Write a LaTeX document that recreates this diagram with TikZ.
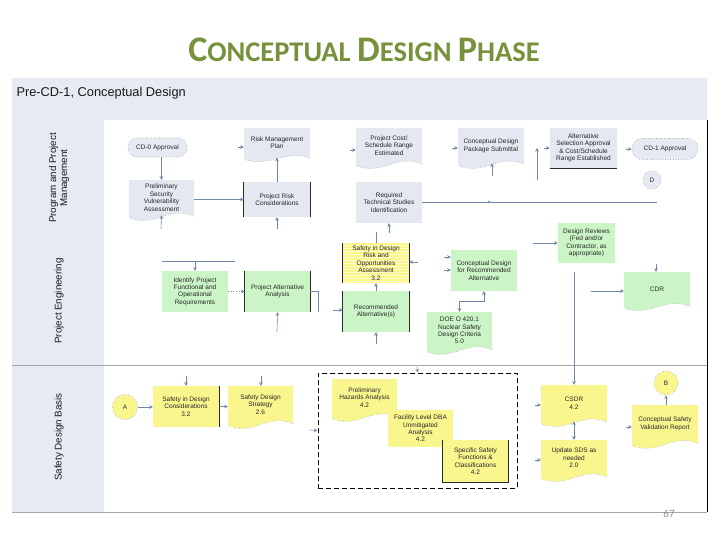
\documentclass[tikz,border=0pt]{standalone}
\usepackage{fontspec}
\setmainfont{Liberation Sans}
\newfontfamily\titlefont{Carlito}
\usetikzlibrary{arrows.meta,patterns,calc}
\definecolor{lanebg}{HTML}{E6EBF3}
\definecolor{boxgray}{HTML}{E3E8F1}
\definecolor{boxgreen}{HTML}{CBF5C6}
\definecolor{boxyellow}{HTML}{FAF68E}
\definecolor{conncol}{HTML}{7088A8}
\definecolor{titlegreen}{HTML}{76923C}
\definecolor{edgedark}{HTML}{2A2A2A}
\definecolor{pagegray}{HTML}{8C8C8C}
\tikzset{
  conn/.style={draw=conncol, line width=0.6pt, -{Stealth[length=3.6pt,width=3.6pt]}},
  dconn/.style={draw=conncol, line width=0.6pt, {Stealth[length=3.6pt,width=3.6pt]}-{Stealth[length=3.6pt,width=3.6pt]}},
  plainline/.style={draw=conncol, line width=0.6pt},
  boxtext/.style={font=\fontsize{6.5}{7.4}\selectfont, text=black!85, align=center, inner sep=0pt},
  darkedge/.style={draw=edgedark, line width=0.8pt},
  dotedge/.style={draw=gray!75, dotted, line width=0.6pt},
  terminal/.style={boxtext, fill=lanebg, draw=gray!80, dotted, line width=0.6pt, rounded corners=9pt},
  connector/.style={boxtext, circle, draw=gray!80, dotted, line width=0.6pt},
  lanelabel/.style={rotate=90, align=center, font=\fontsize{9.8}{11}\selectfont, text=black!90},
}
\newcommand\rectnode[7]{%
  \pgfmathsetmacro\cx{(#2+#4)/2}\pgfmathsetmacro\cy{(#3+#5)/2}%
  \pgfmathsetmacro\ww{#4-#2}\pgfmathsetmacro\hh{#5-#3}%
  \node[boxtext, fill=#6, minimum width=\ww pt, minimum height=\hh pt] (#1) at (\cx,\cy) {#7};}
\newcommand\docnode[7]{%
  \pgfmathsetmacro\ww{#4-#2}\pgfmathsetmacro\hh{#5-#3}%
  \pgfmathsetmacro\cx{(#2+#4)/2}%
  \pgfmathsetmacro\yl{#5-0.10*\hh}\pgfmathsetmacro\yr{#5-0.14*\hh}%
  \pgfmathsetmacro\cax{#2+0.40*\ww}\pgfmathsetmacro\cay{#5+0.14*\hh}%
  \pgfmathsetmacro\cbx{#2+0.62*\ww}\pgfmathsetmacro\cby{#5-0.40*\hh}%
  \fill[#6] (#2,#3) -- (#4,#3) -- (#4,\yr) .. controls (\cbx,\cby) and (\cax,\cay) .. (#2,\yl) -- cycle;
  \draw[dotedge] (#4,\yr) .. controls (\cbx,\cby) and (\cax,\cay) .. (#2,\yl);
  \pgfmathsetmacro\th{0.84*\hh}\pgfmathsetmacro\cy{#3+0.42*\hh}%
  \node[boxtext, minimum width=\ww pt, minimum height=\th pt] (#1) at (\cx,\cy) {#7};}
\begin{document}
\begin{tikzpicture}[x=1pt,y=-1pt]
\useasboundingbox (0,0) rectangle (720,540);
\fill[white] (0,0) rectangle (720,540);
% title
\node[font=\titlefont\bfseries, text=titlegreen, anchor=base] (title) at (364,62)
  {\fontsize{36}{36}\selectfont C\fontsize{28.5}{28.5}\selectfont ONCEPTUAL \fontsize{36}{36}\selectfont D\fontsize{28.5}{28.5}\selectfont ESIGN \fontsize{36}{36}\selectfont P\fontsize{28.5}{28.5}\selectfont HASE};
% pool and lanes
\fill[lanebg] (12,78) rectangle (707,120);
\fill[lanebg] (12,120) rectangle (104,512);
\draw[gray!70, line width=0.8pt] (12,365) -- (707,365);
\draw[gray!70, line width=0.8pt] (12,512) -- (707,512);
\draw[black, line width=1pt] (707,120) -- (707,512);
\node[anchor=west, font=\fontsize{12.8}{12.8}\selectfont, text=black!90] (hdr) at (13,93) {Pre-CD-1, Conceptual Design};
\node[lanelabel] (lane1) at (59,178) {Program and Project\\Management};
\node[lanelabel] (lane2) at (59,301) {Project Engineering};
\node[lanelabel] (lane3) at (59,437) {Safety Design Basis};

% ---- lane 1
\node[terminal, minimum width=59pt, minimum height=19pt] (cd0) at (157.5,147.5) {CD-0 Approval};
\docnode{psva}{129}{180}{194}{222}{boxgray}{Preliminary\\Security\\Vulnerability\\Assessment}
\docnode{rmp}{244}{128}{310}{163}{boxgray}{Risk Management\\Plan}
\rectnode{prc}{244}{182}{310}{217}{boxgray}{Project Risk\\Considerations}
\draw[darkedge] (prc.north west) -- (prc.south west) (prc.north east) -- (prc.south east);
\docnode{pcs}{356}{128}{422}{170}{boxgray}{Project Cost/\\Schedule Range\\Estimated}
\rectnode{rts}{356}{182}{422}{223}{boxgray}{Required\\Technical Studies\\Identification}
\docnode{cdp}{458}{128}{524}{170}{boxgray}{Conceptual Design\\Package Submittal}
\rectnode{asa}{550}{128}{617}{168}{boxgray}{Alternative\\Selection Approval\\\& Cost/Schedule\\Range Established}
\draw[darkedge] (asa.south west) -- (asa.south east);
\node[terminal, minimum width=66pt, minimum height=21pt, rounded corners=10pt] (cd1) at (665,149) {CD-1 Approval};
\node[connector, fill=lanebg, minimum size=18pt] (D) at (652,180) {D};

% ---- lane 2
\rectnode{ipf}{162}{271}{228}{312}{boxgreen}{Identify Project\\Functional and\\Operational\\Requirements}
\rectnode{paa}{245}{271}{310}{312}{boxgreen}{Project Alternative\\Analysis}
\draw[darkedge] (paa.north west) -- (paa.south west) (paa.north east) -- (paa.south east);
\fill[boxyellow] (343,243) rectangle (409,283);
\path[pattern=horizontal lines, pattern color=white!55!boxyellow] (343,243) rectangle (409,283);
\rectnode{sdr}{343}{243}{409}{283}{none}{Safety in Design\\Risk and\\Opportunities\\Assessment\\3.2}
\draw[darkedge] (sdr.north west) -- (sdr.south west) (sdr.north east) -- (sdr.south east);
\rectnode{ra}{343}{291}{409}{332}{boxgreen}{Recommended\\Alternative(s)}
\draw[darkedge] (ra.north west) -- (ra.south west) (ra.north east) -- (ra.south east);
\rectnode{cdra}{451}{250}{517}{291}{boxgreen}{Conceptual Design\\for Recommended\\Alternative}
\docnode{doe}{427}{312}{492}{356}{boxgreen}{DOE O 420.1\\Nuclear Safety\\Design Criteria\\5.0}
\rectnode{dr}{558}{223}{615}{263}{boxgreen}{Design Reviews\\(Fed and/or\\Contractor, as\\appropriate)}
\docnode{cdr}{624}{272}{690}{312}{boxgreen}{CDR}

% ---- lane 3
\node[connector, fill=boxyellow, minimum size=25pt] (A) at (125,407) {A};
\rectnode{sdc}{153}{386}{219}{427}{boxyellow}{Safety in Design\\Considerations\\3.2}
\draw[darkedge] (sdc.north east) -- (sdc.south east);
\docnode{sds}{228}{386}{293}{430}{boxyellow}{Safety Design\\Strategy\\2.6}
\node[draw=black, dashed, dash pattern=on 5pt off 3pt, line width=1pt, minimum width=199pt, minimum height=115pt, inner sep=0pt] (grp) at (417.5,430.5) {};
\docnode{pha}{332}{379}{397}{423}{boxyellow}{Preliminary\\Hazards Analysis\\4.2}
\rectnode{fdba}{388}{410}{453}{447}{boxyellow}{Facility Level DBA\\Unmitigated\\Analysis\\4.2}
\rectnode{ssf}{443}{440}{508}{482}{boxyellow}{Specific Safety\\Functions \&\\Classifications\\4.2}
\draw[darkedge] (ssf.north west) -- (ssf.south west) -- (ssf.south east) -- (ssf.north east);
\docnode{csdr}{541}{385}{607}{428}{boxyellow}{CSDR\\4.2}
\docnode{usds}{541}{440}{607}{483}{boxyellow}{Update SDS as\\needed\\2.0}
\node[connector, fill=boxyellow, minimum size=24pt] (B) at (666,383) {B};
\docnode{csvr}{632}{405}{698}{450}{boxyellow}{Conceptual Safety\\Validation Report}

% ---- connectors lane 1
\draw[conn] (cd0.south -| psva.north) -- (psva.north);
\draw[conn] (psva.east |- prc.west) -- (prc.west);
\draw[conn] (prc.north) -- (rmp.south);
\coordinate (s1) at (161,229);
\draw[conn] (s1) -- (psva.south);
\coordinate (s2) at (277,229);
\draw[conn] (s2) -- (prc.south);
\coordinate (s3) at (389,233);
\draw[conn] (s3) -- (rts.south);
\coordinate (s4) at (238,147);
\draw[conn] (s4) -- (rmp.west |- s4);
\coordinate (s5) at (350,150);
\draw[conn] (s5) -- (pcs.west |- s5);
\coordinate (s6) at (452,148);
\draw[conn] (s6) -- (cdp.west |- s6);
\coordinate (s7) at (544,148);
\draw[conn] (s7) -- (asa.west |- s7);
\coordinate (s8) at (626,149);
\draw[conn] (s8) -- (cd1.west);
\coordinate (s9) at (492,176);
\draw[conn] (s9) -- (cdp.south -| s9);
\coordinate (v1) at (537,180);
\coordinate (v2) at (537,148);
\draw[conn] (v1) -- (v2);
\coordinate (h1) at (657,202);
\draw[plainline] (rts.east |- h1) -- (h1);
\fill[conncol] (489,202) circle (1.3pt);

% ---- connectors lane 2
\coordinate (t1) at (162,261);
\coordinate (t2) at (235,261);
\draw[plainline] (t1) -- (t2);
\draw[conn] (ipf.north |- t1) -- (ipf.north);
\draw[conn, dotted] (ipf.east) -- (paa.west);
\coordinate (t3) at (318,312);
\draw[plainline] (paa.east) -| (t3);
\coordinate (t4) at (277,332);
\draw[conn] (t4) -- (paa.south);
\draw[conn] (ra.north) -- (sdr.south);
\coordinate (t5) at (376,232);
\draw[plainline] (sdr.north) -- (t5);
\coordinate (t6) at (418,262);
\draw[conn] (t6) -- (sdr.east |- t6);
\coordinate (t7) at (444,257);
\draw[conn] (t7) -- (cdra.west |- t7);
\coordinate (t8) at (444,270);
\draw[conn] (t8) -- (cdra.west |- t8);
\coordinate (j1) at (471,301);
\draw[conn] (j1) -| (doe.north);
\draw[conn] (j1) -| (cdra.south);
\coordinate (t9) at (333,310);
\draw[conn] (t9) -- (ra.west |- t9);
\coordinate (t10) at (376,344);
\draw[conn] (t10) -- (ra.south);
\coordinate (t11) at (533,243);
\draw[conn] (t11) -- (dr.west |- t11);
\coordinate (t12) at (591,291);
\draw[conn] (t12) -- (cdr.west |- t12);
\coordinate (t13) at (656,264);
\draw[conn] (t13) -- (cdr.north -| t13);
\coordinate (t14) at (574,272);
\draw[conn] (t14) -- (csdr.north -| t14);

% ---- connectors lane 3
\draw[conn] (A) -- (sdc.west |- A);
\draw[conn] (sdc.east) -- (sds.west |- sdc.east);
\coordinate (u1) at (186,376);
\draw[conn] (u1) -- (sdc.north);
\coordinate (u2) at (261,376);
\draw[conn] (u2) -- (sds.north -| u2);
\coordinate (u3) at (310,430);
\draw[conn] (u3) -- (grp.west);
\coordinate (u4) at (417,367);
\draw[conn] (u4) -- (grp.north);
\draw[dconn] (csdr.south -| t14) -- (usds.north -| t14);
\coordinate (u5) at (535,405);
\draw[conn] (u5) -- (csdr.west |- u5);
\coordinate (u6) at (535,460);
\draw[conn] (u6) -- (usds.west |- u6);
\coordinate (u7) at (626,427);
\draw[conn] (u7) -- (csvr.west |- u7);
\draw[conn] (csvr.north -| B) -- (B.south);

\node[font=\titlefont\fontsize{11}{11}\selectfont, text=pagegray] (page) at (669,514) {67};
\end{tikzpicture}
\end{document}
